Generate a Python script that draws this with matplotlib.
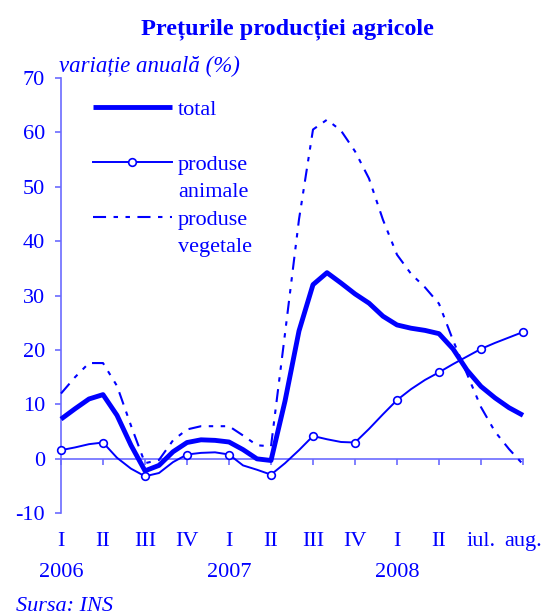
import numpy as np
import matplotlib
matplotlib.use('Agg')
import matplotlib.pyplot as plt
from matplotlib.lines import Line2D

# monthly values, Jan 2006 .. Aug 2008 (x in quarter units, 3 steps per tick)
TOTAL = [7.3, 9.2, 11.0, 11.8, 8.0, 2.5, -2.2, -1.2, 1.3, 3.0, 3.5, 3.4,
         3.1, 1.7, 0.0, -0.3, 10.6, 23.5, 32.0, 34.2, 32.3, 30.3, 28.6, 26.2,
         24.6, 24.0, 23.6, 23.0, 20.2, 16.3, 13.3, 11.2, 9.4, 8.0]
ANIMALE = [1.6, 2.1, 2.7, 3.0, 0.2, -1.8, -3.2, -2.6, -0.6, 0.8, 1.1, 1.2,
           0.8, -1.2, -2.0, -2.9, -0.8, 1.6, 4.2, 3.6, 3.1, 3.0, 5.5, 8.2,
           10.8, 12.8, 14.5, 15.9, 17.4, 18.8, 20.2, 21.3, 22.3, 23.3]
VEGETALE = [12.0, 15.0, 17.6, 17.6, 13.4, 6.1, -0.8, -0.2, 3.4, 5.4, 6.0, 6.0,
            6.0, 4.3, 2.5, 2.3, 23.0, 44.0, 60.5, 62.3, 60.3, 56.5, 51.5, 43.9,
            37.5, 34.0, 31.5, 28.5, 21.8, 15.6, 9.5, 5.0, 1.8, -1.0]
TICK_LABELS = ['I', 'II', 'III', 'IV', 'I', 'II', 'III', 'IV', 'I', 'II', 'iul.', 'aug.']
YEARS = ['2006', '2007', '2008']
YEAR_TICKS = [0, 4, 8]

BLUE = '#0000ff'
AXIS_BLUE = '#6b6bff'
FONT = 'Liberation Serif'

plt.rcParams['font.family'] = FONT
plt.rcParams['lines.scale_dashes'] = False
plt.rcParams['axes.unicode_minus'] = False

fig = plt.figure(figsize=(5.53, 6.15), dpi=100)
ax = fig.add_axes([61 / 553, 1 - 513.3 / 615, 462 / 553, 435.5 / 615])

x = np.arange(len(TOTAL)) / 3.0

veg, = ax.plot(x, VEGETALE, color=BLUE, lw=1.5, dashes=(9.4, 5.4, 3.2, 5.4, 3.2, 5.4),
               clip_on=False, zorder=3)
ani, = ax.plot(x, ANIMALE, color=BLUE, lw=1.4, marker='o', markersize=5.5,
               markerfacecolor='white', markeredgecolor=BLUE, markeredgewidth=1.2,
               markevery=3, clip_on=False, zorder=4)
tot, = ax.plot(x, TOTAL, color=BLUE, lw=3.5, solid_capstyle='butt', clip_on=False,
               zorder=5)

ax.set_xlim(0, 11)
ax.set_ylim(-10, 70)
ax.set_yticks(range(-10, 71, 10))

ax.spines['top'].set_visible(False)
ax.spines['right'].set_visible(False)
ax.spines['bottom'].set_position(('data', 0))
for s in ('left', 'bottom'):
    ax.spines[s].set_color(AXIS_BLUE)
    ax.spines[s].set_linewidth(1.2)

ax.set_xticks(range(len(TICK_LABELS)))
ax.set_xticklabels(TICK_LABELS)
ax.tick_params(axis='x', direction='out', length=4, width=1.2, color=AXIS_BLUE,
               labelcolor=BLUE, labelsize=16, pad=49)
ax.tick_params(axis='y', direction='out', length=4.5, width=1.2, color=AXIS_BLUE,
               labelcolor=BLUE, labelsize=16, pad=7)

for pos, yr in zip(YEAR_TICKS, YEARS):
    ax.text(pos, -0.146, yr, transform=ax.get_xaxis_transform(), ha='center',
            va='baseline', fontsize=16, color=BLUE)

# legend: second lines of the labels are rows without a key
blank = Line2D([], [], color='none')
handles = [tot, blank, ani, blank, veg, blank]
labels = ['total', ' ', 'produse', 'animale', 'produse', 'vegetale']
leg = ax.legend(handles, labels, loc='upper left',
                bbox_to_anchor=(0.069, 0.95), frameon=False, fontsize=16,
                handlelength=3.55, handletextpad=0.27, borderpad=0,
                borderaxespad=0, labelspacing=0.31, labelcolor=BLUE)

fig.text(287 / 553, 1 - 34 / 615, 'Prețurile producției agricole', ha='center',
         va='baseline', fontsize=17.5, fontweight='bold', color=BLUE)
fig.text(59 / 553, 1 - 72 / 615, 'variație anuală (%)', ha='left', va='baseline',
         fontsize=16.5, fontstyle='italic', color=BLUE)
fig.text(16 / 553, 1 - 611 / 615, 'Sursa: INS', ha='left', va='baseline',
         fontsize=16, fontstyle='italic', color=BLUE)

fig.savefig('out.png', dpi=100)
